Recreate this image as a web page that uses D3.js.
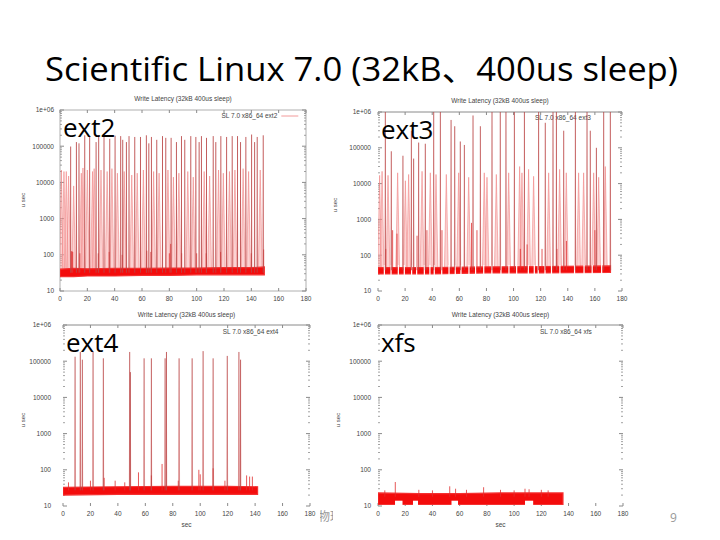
<!DOCTYPE html>
<html>
<head>
<meta charset="utf-8">
<script src="https://cdn.jsdelivr.net/npm/d3@7"></script>
<style>
  body { margin: 0; background: #fff; }
  text { font-family: "Liberation Sans", Arial, sans-serif; }
</style>
</head>
<body>
<svg id="slide" width="720" height="540"></svg>
<script>
// ---- slide text ----
const slideTitle = "Scientific Linux 7.0 (32kB\u3001400us sleep)";
const plotTitle = "Write Latency (32kB 400us sleep)";
const panelNames = ["ext2", "ext3", "ext4", "xfs"];
const legendLabels = ["SL 7.0 x86_64 ext2", "SL 7.0 x86_64 ext3", "SL 7.0 x86_64 ext4", "SL 7.0 x86_64 xfs"];
const footerText = "\u7269\u7406";
const pageNumber = "9";

// ---- axes ----
const xTicks = [0, 20, 40, 60, 80, 100, 120, 140, 160, 180];
const yTicks = [10, 100, 1000, 10000, 100000, 1000000];
const yTickLabels = ["10", "100", "1000", "10000", "100000", "1e+06"];

// ---- ext2 (time sec, latency usec) ----
const ext2Tall = [[7.8,98000],[12.0,130000],[13.9,120000],[18.1,200000],[21.7,190000],[26.4,130000],[28.3,200000],
  [32.2,190000],[36.4,160000],[40.3,195000],[44.4,190000],[45.9,150000],[48.6,130000],[50.5,190000],[54.7,180000],
  [58.9,180000],[63.2,200000],[65.0,120000],[66.9,180000],[70.8,150000],[75.0,190000],[77.4,170000],[81.3,170000],
  [85.2,130000],[88.9,190000],[91.3,150000],[95.7,190000],[99.4,180000],[101.8,130000],[103.5,190000],[107.2,170000],
  [112.1,190000],[114.0,130000],[117.7,190000],[121.9,180000],[126.0,190000],[129.9,190000],[132.1,130000],
  [136.0,180000],[140.2,210000],[142.4,130000],[144.3,180000],[148.7,200000]];
const ext2Light = [[1.0,22000],[2.9,20000],[4.6,20000],[6.3,15000],[10.0,8000],[15.6,18000],[16.8,25000],[20.0,22000],
  [23.8,20000],[25.0,24000],[30.0,22000],[34.5,20000],[38.0,24000],[42.0,18000],[47.0,20000],[52.5,16000],[56.5,18000],
  [61.0,22000],[68.5,20000],[72.5,18000],[79.0,22000],[83.0,14000],[87.0,18000],[93.5,20000],[97.5,14000],[105.5,20000],
  [109.5,15000],[116.0,22000],[119.5,18000],[124.0,20000],[128.0,22000],[134.0,24000],[138.0,20000],[146.5,22000]];
const ext2Mid = [[8.3,125],[8.8,125],[9.3,120],[14.5,110],[28.0,110],[36.0,120],[45.5,100],[63.5,130],[66.5,120],
  [80.0,110],[81.0,200],[89.0,110],[100.0,110],[107.0,110],[117.5,120],[140.0,110],[149.0,140]];
const ext2Band = [[0,25,40],[10,25,42],[20,26,41],[40,26,42],[60,27,42],[80,27,43],[100,28,43],[120,28,44],[140,28,44],[149.5,28,46]];

// ---- ext3 ----
const ext3Tall = [[5.4,2e6],[9.8,80000],[18.4,60000],[24.6,300000],[26.3,50000],[30.0,140000],[34.9,130000],
  [41.1,2e6],[46.0,2e6],[53.9,600000],[56.6,400000],[60.7,150000],[63.7,120000],[70.1,800000],[75.5,400000],
  [84.1,2e6],[90.2,2e6],[94.4,2e6],[100.6,2e6],[108.0,2e6],[118.5,2e6],[123.4,500000],[129.1,2e6],[131.6,2e6],
  [137.0,300000],[145.6,2e6],[154.2,2e6],[156.6,300000],[161.1,100000],[166.5,2e6],[171.4,2e6]];
const ext3Light = [[1.2,17000],[3.0,22000],[7.4,17000],[14.5,20000],[20.2,12000],[22.6,18000],[32.5,22000],
  [38.6,20000],[42.8,18000],[50.4,18000],[59.5,20000],[66.9,15000],[78.4,20000],[80.4,15000],[87.3,18000],
  [96.4,20000],[104.5,30000],[106.2,20000],[111.1,25000],[114.8,16000],[125.9,20000],[134.0,25000],[138.9,20000],
  [148.0,20000],[151.7,20000],[159.1,20000],[162.8,15000],[167.7,30000]];
const ext3Mid = [[5.7,150],[10.8,500],[14.0,400],[28.8,350],[36.1,500],[47.2,500],[73.0,500],[105.0,150],
  [110.0,200],[121.0,150],[132.0,150],[139.0,250],[160.0,500],[69.0,800]];
const ext3Band = [[0,30,45],[40,30,45],[80,32,47],[120,32,48],[171.5,33,50]];
const ext3Gaps = [4.7,9.6,15,19.4,24.8,28.5,34.2,38.3,41.5,47,52.4,57,61.2,67.1,72,78,84,90.7,96.6,102.3,
  110.9,115.3,118.2,123.2,128,134.2,145,152,158,165];

// ---- ext4 ----
const ext4Tall = [[8.8,133000],[12.6,180000],[14.1,110000],[21.9,180000],[29.4,120000],[48.6,180000],[49.1,50000],
  [59.1,120000],[64.4,120000],[74.4,120000],[75.4,180000],[84.6,120000],[94.1,120000],[102.1,190000],
  [109.4,120000],[119.7,140000],[128.2,180000],[129.4,110000]];
const ext4Light = [];
const ext4Mid = [[72.2,145],[55.0,85],[99.0,100],[109.4,110],[64.4,70],[133.8,70],[136.0,65],[138.0,65],
  [20.0,50],[4.0,45],[30.0,60],[38.0,50],[45.0,45],[100.0,75],[84.0,50],[118.0,50]];
const ext4Band = [[0,20,33],[40,21,34],[80,21,35],[120,21,35],[141.8,21,34]];

// ---- xfs ----
const xfsTall = [];
const xfsLight = [];
const xfsMid = [[12.7,46],[52.7,35],[57.0,30],[77.6,33],[108.0,30],[30.0,28],[90.0,28],[120.0,28],[125.0,27],
  [5.0,27],[65.0,28],[100.0,27],[40.0,27],[111.0,29]];
const xfsBand = [[0,11,23],[30,11,22],[60,11,22],[90,11,23],[120,11,23],[135.9,11,23]];
const xfsNotches = [[12.5,18.0],[25.7,29.4],[54.0,58.8],[108.0,114.0]];

const svg = d3.select("#slide");

// slide title
svg.append("text")
  .attr("x", 45).attr("y", 81)
  .attr("textLength", 633).attr("lengthAdjust", "spacingAndGlyphs")
  .style("font-family", "'Open Sans', 'Noto Sans CJK JP', sans-serif")
  .style("font-size", "32px").attr("fill", "#000")
  .text(slideTitle);

// footer (partly hidden by the xfs picture)
svg.append("text").attr("x", 318).attr("y", 521)
  .style("font-family", "'Noto Sans CJK JP', sans-serif").style("font-size", "12px")
  .attr("fill", "#999").text(footerText);
svg.append("text").attr("x", 670).attr("y", 522)
  .style("font-family", "'Open Sans', sans-serif").style("font-size", "12px")
  .attr("fill", "#999").text(pageNumber);

const panels = [
  { name: 0, x0: 60, x1: 306, y0: 110, y1: 291, frame: true, titleY: 101, legendY: 118, sample: true,
    ylabX: 25, ylabY: 200, xlab: false, labOff: 6, bg: null,
    tall: ext2Tall, light: ext2Light, mid: ext2Mid, band: ext2Band, gaps: [], notches: [], base: 32 },
  { name: 1, x0: 378, x1: 622, y0: 112, y1: 291, frame: false, titleY: 103, legendY: 120, sample: false,
    ylabX: 337, ylabY: 205, xlab: false, labOff: 7, bg: null,
    tall: ext3Tall, light: ext3Light, mid: ext3Mid, band: ext3Band, gaps: ext3Gaps, notches: [], base: 38 },
  { name: 2, x0: 63, x1: 310, y0: 325, y1: 506, frame: false, titleY: 317, legendY: 334, sample: false,
    ylabX: 25, ylabY: 420, xlab: true, labOff: 12, bg: [0, 308, 320, 232],
    tall: ext4Tall, light: ext4Light, mid: ext4Mid, band: ext4Band, gaps: [], notches: [], base: 27 },
  { name: 3, x0: 378, x1: 623, y0: 325, y1: 506, frame: false, titleY: 317, legendY: 334, sample: false,
    ylabX: 340, ylabY: 420, xlab: true, labOff: 7, bg: [333, 308, 310, 228],
    tall: xfsTall, light: xfsLight, mid: xfsMid, band: xfsBand, gaps: [], notches: xfsNotches, base: 18 }
];

function drawPanel(p) {
  const g = svg.append("g").attr("class", "panel");
  if (p.bg) {
    g.append("rect").attr("x", p.bg[0]).attr("y", p.bg[1])
      .attr("width", p.bg[2]).attr("height", p.bg[3]).attr("fill", "#fff");
  }

  const x = d3.scaleLinear().domain([0, 180]).range([p.x0, p.x1]);
  const y = d3.scaleLog().domain([10, 1e6]).range([p.y1, p.y0]).clamp(true);
  const axisColor = "#8a8a8a";

  // border
  if (p.frame) {
    g.append("rect").attr("x", p.x0).attr("y", p.y0)
      .attr("width", p.x1 - p.x0).attr("height", p.y1 - p.y0)
      .attr("fill", "none").attr("stroke", "#b0b0b0").attr("stroke-width", 1);
  } else {
    g.append("line").attr("x1", p.x0).attr("x2", p.x1).attr("y1", p.y0).attr("y2", p.y0)
      .attr("stroke", axisColor).attr("stroke-width", 1);
  }

  // x ticks (bottom and top)
  xTicks.forEach(t => {
    g.append("line").attr("x1", x(t)).attr("x2", x(t)).attr("y1", p.y1).attr("y2", p.y1 - 3)
      .attr("stroke", axisColor);
    g.append("line").attr("x1", x(t)).attr("x2", x(t)).attr("y1", p.y0).attr("y2", p.y0 + 3)
      .attr("stroke", axisColor);
    g.append("text").attr("x", x(t)).attr("y", p.y1 + 10)
      .attr("text-anchor", "middle").style("font-size", "6.5px").attr("fill", "#444")
      .text(t);
  });

  // y ticks: majors + log minors, both sides
  yTicks.forEach((v, i) => {
    [[p.x0, 4], [p.x1, -4]].forEach(([xe, len]) => {
      g.append("line").attr("x1", xe).attr("x2", xe + len).attr("y1", y(v)).attr("y2", y(v))
        .attr("stroke", axisColor);
      if (i < yTicks.length - 1) {
        d3.range(2, 10).forEach(m => {
          g.append("line").attr("x1", xe).attr("x2", xe + len / 2)
            .attr("y1", y(v * m)).attr("y2", y(v * m))
            .attr("stroke", axisColor).attr("stroke-width", 0.8);
        });
      }
    });
    g.append("text").attr("x", p.x0 - p.labOff).attr("y", y(v) + 2.3)
      .attr("text-anchor", "end").style("font-size", "6.5px").attr("fill", "#444")
      .text(yTickLabels[i]);
  });

  // titles and labels
  g.append("text").attr("x", (p.x0 + p.x1) / 2).attr("y", p.titleY)
    .attr("text-anchor", "middle").style("font-size", "6.5px").attr("fill", "#444")
    .text(plotTitle);
  g.append("text").attr("transform", `translate(${p.ylabX},${p.ylabY}) rotate(-90)`)
    .attr("text-anchor", "middle").style("font-size", "6px").attr("fill", "#444")
    .text("u sec");
  if (p.xlab) {
    g.append("text").attr("x", (p.x0 + p.x1) / 2).attr("y", p.y1 + 21)
      .attr("text-anchor", "middle").style("font-size", "6.5px").attr("fill", "#444")
      .text("sec");
  }

  // legend
  const legendEnd = p.sample ? x(159) : x(157);
  g.append("text").attr("x", legendEnd).attr("y", p.legendY)
    .attr("text-anchor", "end").style("font-size", "6.5px").attr("fill", "#444")
    .text(legendLabels[p.name]);
  if (p.sample) {
    g.append("line").attr("x1", legendEnd + 4).attr("x2", legendEnd + 21)
      .attr("y1", p.legendY - 2).attr("y2", p.legendY - 2)
      .attr("stroke", "#f29a9a").attr("stroke-width", 1);
  }

  // data area clip
  const clipId = "clip" + p.name;
  g.append("clipPath").attr("id", clipId).append("rect")
    .attr("x", p.x0).attr("y", p.y0).attr("width", p.x1 - p.x0).attr("height", p.y1 - p.y0);
  const data = g.append("g").attr("clip-path", `url(#${clipId})`);

  const wedge = w => d => `M${x(d[0] - w)},${y(p.base)}L${x(d[0])},${y(d[1])}L${x(d[0] + w)},${y(p.base)}Z`;

  // light spikes: pink wedges
  data.selectAll("path.light").data(p.light).enter().append("path")
    .attr("class", "light")
    .attr("d", wedge(1.4))
    .attr("fill", "#f7a8a8").attr("fill-opacity", 0.5)
    .attr("stroke", "#f08080").attr("stroke-width", 0.7).attr("stroke-opacity", 0.8);

  // pale shading under the tall spikes
  data.selectAll("path.tallfill").data(p.tall).enter().append("path")
    .attr("class", "tallfill")
    .attr("d", wedge(0.8))
    .attr("fill", "#f4a0a0").attr("fill-opacity", 0.4);

  // main band of normal latencies
  const area = d3.area().x(d => x(d[0])).y0(d => y(d[1])).y1(d => y(d[2]));
  data.append("path").datum(p.band).attr("d", area)
    .attr("fill", "#f30c0c").attr("stroke", "#f53030").attr("stroke-width", 1.2);

  // small white gaps in the band (ext3) and notches at its bottom (xfs)
  const bandHi = d3.max(p.band, d => d[2]);
  const bandLo = d3.min(p.band, d => d[1]);
  data.selectAll("rect.gap").data(p.gaps).enter().append("rect")
    .attr("class", "gap")
    .attr("x", d => x(d - 0.45)).attr("width", d => x(d + 0.45) - x(d - 0.45))
    .attr("y", y(bandHi) - 1).attr("height", y(bandLo) - y(bandHi) + 2)
    .attr("fill", "#fff");
  data.selectAll("rect.notch").data(p.notches).enter().append("rect")
    .attr("class", "notch")
    .attr("x", d => x(d[0])).attr("width", d => x(d[1]) - x(d[0]))
    .attr("y", y(14)).attr("height", y(10) - y(14) + 1)
    .attr("fill", "#fff");

  // mid-size spikes just above the band
  data.selectAll("line.mid").data(p.mid).enter().append("line")
    .attr("class", "mid")
    .attr("x1", d => x(d[0])).attr("x2", d => x(d[0]))
    .attr("y1", y(p.base)).attr("y2", d => y(d[1]))
    .attr("stroke", "#e03030").attr("stroke-width", 1).attr("stroke-opacity", 0.8);

  // tall latency spikes
  data.selectAll("line.tall").data(p.tall).enter().append("line")
    .attr("class", "tall")
    .attr("x1", d => x(d[0])).attr("x2", d => x(d[0]))
    .attr("y1", y(p.base)).attr("y2", d => y(d[1]))
    .attr("stroke", "#b84444").attr("stroke-width", 1).attr("stroke-opacity", 0.85);

  // big panel label
  g.append("text").attr("x", p.x0 + 3).attr("y", p.y0 + 27)
    .style("font-family", "'Open Sans', sans-serif").style("font-size", "26px")
    .attr("fill", "#000").text(panelNames[p.name]);
}

panels.forEach(drawPanel);
</script>
</body>
</html>
